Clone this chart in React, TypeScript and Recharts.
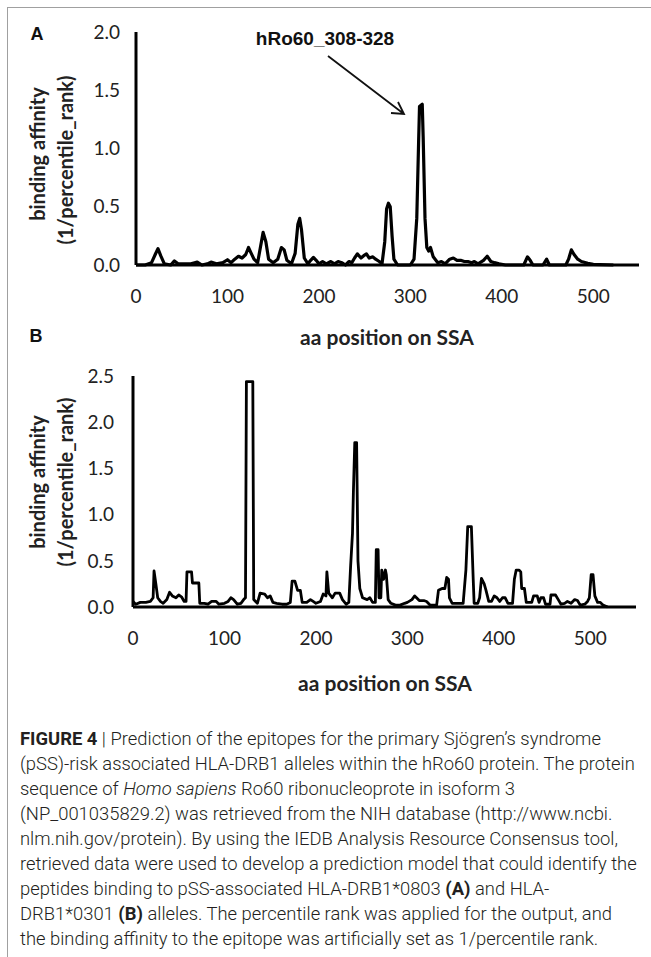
import React from 'react';
import { LineChart, Line, XAxis, YAxis } from 'recharts';

// Panel A: HLA-DRB1*0803, binding affinity along the hRo60 sequence
const posA = [
  0, 10, 17, 21, 24, 27, 31, 38, 42, 46, 60, 67, 72, 78, 82, 88, 95, 100, 104, 108,
  112, 116, 120, 123, 126, 129, 133, 136, 139, 142, 145, 150, 155, 159, 162, 165, 170, 174, 177, 179,
  181, 184, 188, 191, 194, 197, 200, 204, 208, 213, 217, 221, 225, 229, 233, 236, 239, 242, 246, 249,
  252, 255, 259, 262, 266, 269, 272, 274, 276, 278, 280, 282, 286, 300, 304, 307, 309, 310, 313, 314,
  316, 318, 320, 322, 325, 330, 334, 338, 343, 347, 351, 355, 359, 363, 367, 370, 374, 380, 384, 388,
  392, 397, 404, 424, 428, 431, 434, 445, 449, 452, 470, 473, 476, 479, 483, 487, 494, 500, 522,
];
const affinityA = [
  0, 0, 0.02, 0.09, 0.14, 0.08, 0.01, 0, 0.035, 0.01, 0.01, 0.025, 0, 0.01, 0.025, 0.01, 0.02, 0.045, 0.02, 0.05,
  0.075, 0.06, 0.09, 0.15, 0.1, 0.05, 0.02, 0.15, 0.28, 0.2, 0.05, 0.02, 0.05, 0.15, 0.13, 0.04, 0.01, 0.1, 0.35, 0.4,
  0.3, 0.06, 0.01, 0.04, 0.065, 0.04, 0.01, 0.03, 0.01, 0.03, 0.01, 0.03, 0.02, 0, 0.03, 0.02, 0.06, 0.095, 0.06, 0.08,
  0.095, 0.06, 0.07, 0.05, 0.03, 0.01, 0.2, 0.48, 0.53, 0.5, 0.25, 0.05, 0, 0, 0.05, 0.4, 1.05, 1.36, 1.38, 1.1,
  0.4, 0.15, 0.12, 0.15, 0.07, 0.02, 0.03, 0.01, 0.05, 0.06, 0.04, 0.04, 0.03, 0.03, 0.02, 0.03, 0.01, 0.04, 0.075, 0.03,
  0.02, 0.01, 0, 0, 0.07, 0.04, 0, 0, 0.05, 0, 0, 0.05, 0.13, 0.09, 0.05, 0.03, 0.015, 0.005, 0,
];

// Panel B: HLA-DRB1*0301
const posB = [
  0, 3, 8, 14, 19, 22, 23, 25, 27, 30, 33, 37, 40, 43, 47, 50, 53, 56, 58, 59,
  64, 65, 72, 73, 78, 82, 86, 91, 94, 100, 104, 107, 110, 114, 118, 121, 123, 124, 131, 132,
  136, 139, 144, 147, 150, 153, 157, 163, 168, 172, 174, 177, 180, 183, 185, 190, 194, 197, 200, 205,
  208, 211, 212, 214, 218, 221, 226, 229, 233, 236, 238, 240, 241, 242.5, 244.5, 246, 248, 251, 256, 259,
  262, 265, 266, 268, 269, 271, 272, 274, 276, 277, 279, 282, 287, 292, 297, 300, 305, 308, 310, 313,
  318, 321, 325, 332, 334, 338, 341, 343, 345, 346, 349, 357, 361, 364, 366, 370, 372, 373, 377, 379,
  381, 384, 386, 389, 392, 395, 398, 401, 404, 407, 410, 415, 417, 419, 422, 424, 425, 428, 430, 436,
  438, 442, 444, 446, 449, 451, 456, 457, 462, 465, 468, 472, 475, 479, 483, 486, 489, 494, 497, 499,
  501, 503, 505, 508, 511, 514, 519,
];
const affinityB = [
  0.06, 0.03, 0.05, 0.05, 0.06, 0.1, 0.39, 0.25, 0.1, 0.06, 0.04, 0.08, 0.16, 0.12, 0.1, 0.13, 0.11, 0.06, 0.06, 0.38,
  0.38, 0.26, 0.26, 0.04, 0.04, 0.03, 0.06, 0.06, 0.03, 0.04, 0.06, 0.1, 0.08, 0.03, 0.04, 0.08, 0.1, 2.44, 2.44, 0.08,
  0.04, 0.15, 0.14, 0.1, 0.12, 0.05, 0.04, 0.03, 0.03, 0.05, 0.28, 0.28, 0.18, 0.18, 0.05, 0.05, 0.08, 0.06, 0.04, 0.06,
  0.14, 0.12, 0.38, 0.15, 0.1, 0.15, 0.15, 0.08, 0.03, 0.05, 0.45, 0.8, 1.25, 1.78, 1.78, 0.5, 0.2, 0.1, 0.08, 0.1,
  0.05, 0.05, 0.62, 0.62, 0.1, 0.1, 0.4, 0.3, 0.4, 0.35, 0.08, 0.04, 0.02, 0.02, 0.04, 0.05, 0.08, 0.12, 0.1, 0.07,
  0.07, 0.06, 0.02, 0.02, 0.18, 0.2, 0.2, 0.32, 0.3, 0.1, 0.04, 0.04, 0.04, 0.4, 0.87, 0.87, 0.3, 0.04, 0.04, 0.1,
  0.31, 0.25, 0.18, 0.06, 0.06, 0.12, 0.1, 0.06, 0.1, 0.1, 0.04, 0.04, 0.3, 0.4, 0.4, 0.38, 0.2, 0.2, 0.05, 0.05,
  0.12, 0.12, 0.05, 0.1, 0.1, 0.03, 0.03, 0.13, 0.13, 0.08, 0.03, 0.04, 0.06, 0.04, 0.08, 0.07, 0.02, 0.03, 0.06, 0.1,
  0.35, 0.35, 0.12, 0.05, 0.05, 0.02, 0,
];

const xTicks = [0, 100, 200, 300, 400, 500];
const yTicksA = [0, 0.5, 1, 1.5, 2];
const yTicksB = [0, 0.5, 1, 1.5, 2, 2.5];

const dataA = posA.map((x, i) => ({ x, y: affinityA[i] }));
const dataB = posB.map((x, i) => ({ x, y: affinityB[i] }));

const tickStyle = { fontSize: 19, fill: '#222', fontFamily: 'Lato, sans-serif' };
const axisLine = { stroke: '#000', strokeWidth: 3 };
const titleFont = 'Lato, sans-serif';

function Panel({ data, ticks, max, yAxisWidth, right, top, bottom, yMargin, strokeWidth }: any) {
  return (
    <LineChart width={651} height={320} data={data} margin={{ top, right, bottom, left: 0 }}>
      <XAxis
        type="number"
        dataKey="x"
        domain={[0, 550]}
        ticks={xTicks}
        tickLine={false}
        axisLine={axisLine}
        tick={tickStyle}
        tickMargin={19}
        height={30}
      />
      <YAxis
        type="number"
        domain={[0, max]}
        ticks={ticks}
        tickFormatter={(v: number) => v.toFixed(1)}
        tickLine={false}
        axisLine={axisLine}
        tick={tickStyle}
        tickMargin={yMargin}
        width={yAxisWidth}
      />
      <Line
        type="linear"
        dataKey="y"
        stroke="#000"
        strokeWidth={strokeWidth}
        strokeLinejoin="round"
        dot={false}
        isAnimationActive={false}
      />
    </LineChart>
  );
}

const captionLines: React.ReactNode[] = [
  <><b style={{ fontWeight: 700 }}>FIGURE 4</b> | Prediction of the epitopes for the primary Sjögren’s syndrome</>,
  <>(pSS)-risk associated HLA-DRB1 alleles within the hRo60 protein. The protein</>,
  <>sequence of <i>Homo sapiens</i> Ro60 ribonucleoprote in isoform 3</>,
  <>(NP_001035829.2) was retrieved from the NIH database (http://www.ncbi.</>,
  <>nlm.nih.gov/protein). By using the IEDB Analysis Resource Consensus tool,</>,
  <>retrieved data were used to develop a prediction model that could identify the</>,
  <>peptides binding to pSS-associated HLA-DRB1*0803 <b style={{ fontWeight: 700 }}>(A)</b> and HLA-</>,
  <>DRB1*0301 <b style={{ fontWeight: 700 }}>(B)</b> alleles. The percentile rank was applied for the output, and</>,
  <>the binding affinity to the epitope was artificially set as 1/percentile rank.</>,
];

export default function App() {
  return (
    <div style={{ position: 'absolute', left: 0, top: 0, width: 651, height: 957, background: '#fff', overflow: 'hidden' }}>
      <div
        style={{
          position: 'absolute',
          left: 7,
          top: 7,
          width: 660,
          height: 980,
          borderTop: '1.5px solid #a0a0a0',
          borderLeft: '1.5px solid #a0a0a0',
        }}
      />
      <div style={{ position: 'absolute', left: 0, top: 0 }}>
        <Panel data={dataA} ticks={yTicksA} max={2} yAxisWidth={136} right={12} top={32} bottom={25} yMargin={10} strokeWidth={3.2} />
      </div>
      <div style={{ position: 'absolute', left: 0, top: 340 }}>
        <Panel data={dataB} ticks={yTicksB} max={2.5} yAxisWidth={133} right={15} top={36} bottom={23} yMargin={13} strokeWidth={2.8} />
      </div>
      <svg width={651} height={720} style={{ position: 'absolute', left: 0, top: 0, pointerEvents: 'none' }}>
        <text x={37} y={40} textAnchor="middle" fontFamily="Liberation Sans, Arial, sans-serif" fontWeight={700} fontSize={18} fill="#111">A</text>
        <text x={36} y={342} textAnchor="middle" fontFamily="Liberation Sans, Arial, sans-serif" fontWeight={700} fontSize={18} fill="#111">B</text>

        <text x={325} y={45} textAnchor="middle" fontFamily="Liberation Sans, Arial, sans-serif" fontWeight={700} fontSize={19} fill="#111">hRo60_308-328</text>
        <path d="M328 56 L404 114 M391 113 L404 114 L398 102" stroke="#111" strokeWidth={1.8} fill="none" />

        <g transform="translate(38 154) rotate(-90)">
          <text x={0} y={7} textAnchor="middle" fontFamily={titleFont} fontWeight={700} fontSize={20} fill="#222">binding affinity</text>
        </g>
        <g transform="translate(66 160) rotate(-90)">
          <text x={0} y={7} textAnchor="middle" fontFamily={titleFont} fontWeight={700} fontSize={20} fill="#222">(1/percentile_rank)</text>
        </g>
        <text x={387} y={345} textAnchor="middle" fontFamily={titleFont} fontWeight={700} fontSize={21} fill="#222">aa position on SSA</text>

        <g transform="translate(38 482) rotate(-90)">
          <text x={0} y={7} textAnchor="middle" fontFamily={titleFont} fontWeight={700} fontSize={20} fill="#222">binding affinity</text>
        </g>
        <g transform="translate(66 482) rotate(-90)">
          <text x={0} y={7} textAnchor="middle" fontFamily={titleFont} fontWeight={700} fontSize={20} fill="#222">(1/percentile_rank)</text>
        </g>
        <text x={385} y={691} textAnchor="middle" fontFamily={titleFont} fontWeight={700} fontSize={21} fill="#222">aa position on SSA</text>
      </svg>
      <div
        style={{
          position: 'absolute',
          left: 20,
          top: 726,
          fontFamily: 'Roboto, sans-serif',
          fontWeight: 300,
          fontSize: 18.4,
          lineHeight: '25px',
          color: '#231f20',
        }}
      >
        {captionLines.map((line, i) => (
          <div key={i} style={{ whiteSpace: 'nowrap' }}>{line}</div>
        ))}
      </div>
    </div>
  );
}
